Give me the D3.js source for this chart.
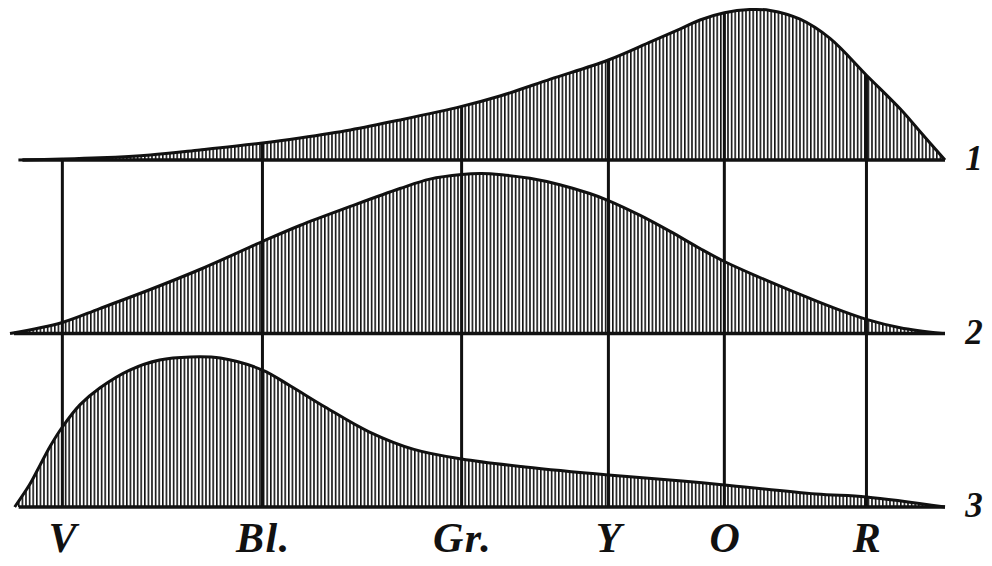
<!DOCTYPE html>
<html>
<head>
<meta charset="utf-8">
<script src="https://cdn.jsdelivr.net/npm/d3@7"></script>
<style>
  html, body { margin: 0; padding: 0; background: #fff; }
  svg { display: block; }
</style>
</head>
<body>
<div id="chart"></div>
<script>
// ---- data (spectral position 0-100, relative intensity 0-100) ----
const panels = ["1", "2", "3"];
const colorNames = ["V", "Bl.", "Gr.", "Y", "O", "R"];
const colorPositions = [5.6, 27, 48.3, 64, 76.4, 91.6];

const curve1 = [[0.9,0],[5.6,0.6],[9.6,1.4],[15,3.2],[20.3,6.3],[27,10.6],[31,13.8],[36.4,18.8],[41.7,25],[48.3,33.5],[52.4,40],[57.8,50.5],[64,62.5],[68.5,73.8],[71.7,82],[73.8,87.5],[76.4,92],[79.1,94],[81.3,93.5],[84.5,88],[87.7,76],[91.6,53],[95.2,32],[97.3,18],[100,0]];
const curve2 = [[0,0],[5.6,6.9],[9.6,15.6],[15,27.5],[20.3,40],[27,57.5],[31,67.5],[36.4,79.4],[41.7,90.6],[44.9,96.5],[48.3,99.4],[50.4,100],[52.6,99.2],[55.6,97],[58.8,93],[62,87.5],[64,83.1],[67.4,73.8],[70.6,63.8],[73.8,53.1],[76.4,45],[80.2,35],[84.5,24.4],[87.7,16.9],[91.6,8.8],[95.2,3.6],[99.7,0]];
const curve3 = [[0.5,0],[2.1,14],[3.2,26],[4.3,38],[5.6,50],[7.5,64],[9.6,74.4],[12.8,85.6],[16,91.9],[19.3,93.8],[22.5,93.1],[27,85.6],[30,75.6],[33.7,62.5],[38.4,47],[43.2,36],[48.3,30],[55.1,25],[64,20],[71.9,16.3],[76.4,13.8],[86.2,8.1],[91.6,6.3],[100,0]];
const curves = [curve1, curve2, curve3];

// ---- layout ----
const W = 992, H = 566;
const x = d3.scaleLinear().domain([0, 100]).range([10, 945]);
const base = d3.scalePoint().domain(panels).range([160, 507]);
const h = d3.scaleLinear().domain([0, 100]).range([0, 160]);
const curveType = d3.curveCatmullRom.alpha(0.5);

const svg = d3.select("#chart").append("svg")
  .attr("width", W).attr("height", H)
  .style("background", "#fff");

// vertical hatching pattern
const defs = svg.append("defs");
const pat = defs.append("pattern")
  .attr("id", "hatch")
  .attr("patternUnits", "userSpaceOnUse")
  .attr("width", 3.6).attr("height", 10);
pat.append("rect").attr("x", 0).attr("y", 0)
  .attr("width", 1.6).attr("height", 10).attr("fill", "#111");

function valueAt(curve, p) {
  for (let i = 0; i < curve.length - 1; i++) {
    const a = curve[i], b = curve[i + 1];
    if (p >= a[0] && p <= b[0]) {
      const t = (p - a[0]) / (b[0] - a[0]);
      return a[1] + t * (b[1] - a[1]);
    }
  }
  return 0;
}

panels.forEach((name, i) => {
  const b = base(name);
  const data = curves[i];
  const area = d3.area()
    .x(d => x(d[0]))
    .y0(b)
    .y1(d => b - h(d[1]))
    .curve(curveType);
  svg.append("path").datum(data)
    .attr("d", area)
    .attr("fill", "url(#hatch)");
});

// vertical colour lines: from top curve down to lowest baseline
const topPanel = panels[0], bottomPanel = panels[panels.length - 1];
svg.append("g").selectAll("line")
  .data(colorPositions)
  .join("line")
  .attr("x1", d => x(d)).attr("x2", d => x(d))
  .attr("y1", d => base(topPanel) - h(valueAt(curve1, d)))
  .attr("y2", base(bottomPanel))
  .attr("stroke", "#111").attr("stroke-width", 3);

panels.forEach((name, i) => {
  const b = base(name);
  const data = curves[i];
  const line = d3.line()
    .x(d => x(d[0]))
    .y(d => b - h(d[1]))
    .curve(curveType);
  svg.append("path").datum(data)
    .attr("d", line)
    .attr("fill", "none")
    .attr("stroke", "#111")
    .attr("stroke-width", 3)
    .attr("stroke-linejoin", "round");
  // baseline
  svg.append("line")
    .attr("x1", x(data[0][0]) + 4).attr("x2", x(100))
    .attr("y1", b).attr("y2", b)
    .attr("stroke", "#111").attr("stroke-width", 3.4);
  // panel number
  svg.append("text")
    .attr("x", 974).attr("y", b + 10)
    .attr("text-anchor", "middle")
    .attr("font-family", "'Liberation Serif', 'DejaVu Serif', serif")
    .attr("font-style", "italic")
    .attr("font-weight", "bold")
    .attr("font-size", 35)
    .attr("fill", "#111")
    .text(name);
});

// colour labels
svg.append("g").selectAll("text")
  .data(colorNames)
  .join("text")
  .attr("x", (d, i) => x(colorPositions[i]) + 1)
  .attr("y", 552)
  .attr("text-anchor", "middle")
  .attr("font-family", "'Liberation Serif', 'DejaVu Serif', serif")
  .attr("font-style", "italic")
  .attr("font-weight", "bold")
  .attr("font-size", 42)
  .attr("letter-spacing", 1.5)
  .attr("fill", "#111")
  .text(d => d);
</script>
</body>
</html>
